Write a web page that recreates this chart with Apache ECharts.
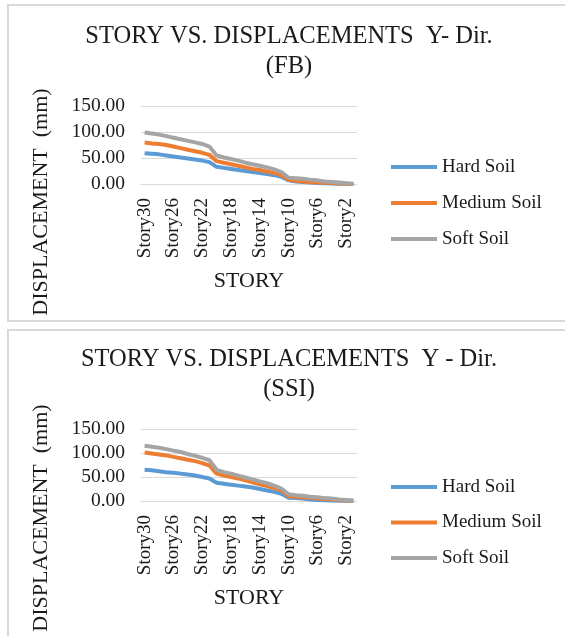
<!DOCTYPE html>
<html>
<head>
<meta charset="utf-8">
<script src="https://cdn.jsdelivr.net/npm/echarts@6/dist/echarts.min.js"></script>
<style>
html,body{margin:0;padding:0;background:#fff;}
#chart{width:565px;height:636px;}
</style>
</head>
<body>
<div id="chart"></div>
<script>
// ---- data ----
var categories = ['Story30','Story29','Story28','Story27','Story26','Story25','Story24','Story23','Story22','Story21',
  'Story20','Story19','Story18','Story17','Story16','Story15','Story14','Story13','Story12','Story11',
  'Story10','Story9','Story8','Story7','Story6','Story5','Story4','Story3','Story2','Story1'];
var seriesNames = ['Hard Soil','Medium Soil','Soft Soil'];
var yTicks = [0, 50, 100, 150];

var fbHard   = [59, 58, 57, 55, 53, 51, 49, 47, 45, 42, 33, 31, 29, 27, 25, 23, 21, 19, 17, 14, 7, 5, 4, 3, 2, 1.5, 1, 0.5, 0.3, 0.1];
var fbMedium = [80, 78, 77, 75, 72, 69, 66, 63, 60, 56, 44, 41, 38, 35, 32, 29, 27, 24, 21, 17, 8, 6, 5, 4, 3, 2.5, 2, 1.2, 0.6, 0.2];
var fbSoft   = [99, 97, 95, 92, 89, 86, 83, 80, 77, 72, 55, 51, 48, 45, 41, 38, 35, 32, 28, 23, 12, 11, 10, 8, 7, 5, 4, 3, 1.5, 0.5];

var ssiHard   = [65, 64, 62, 60, 59, 57, 55, 53, 50, 47, 38, 36, 34, 32, 30, 28, 25, 22, 19, 15, 7, 6, 5, 3, 2, 1.5, 1, 0.5, 0.3, 0.1];
var ssiMedium = [101, 99, 97, 95, 92, 89, 86, 83, 79, 74, 57, 53, 50, 47, 43, 39, 35, 31, 27, 22, 10, 9, 8, 7, 5, 4, 3, 2, 1, 0.3];
var ssiSoft   = [115, 113, 111, 108, 105, 102, 98, 94, 90, 85, 65, 60, 57, 53, 49, 45, 41, 37, 32, 26, 14, 12, 11, 9, 8, 6, 5, 3, 2, 0.5];

var titleFB  = 'STORY VS. DISPLACEMENTS  Y- Dir.\n(FB)';
var titleSSI = 'STORY VS. DISPLACEMENTS  Y - Dir.\n(SSI)';
var xTitle = 'STORY';
var yTitle = 'DISPLACEMENT  (mm)';

// ---- styling ----
var FONT = '"Liberation Serif", "Times New Roman", serif';
var TXT = '#1a1a1a';
var GRIDC = '#d9d9d9';
var colors = ['#5B9BD5', '#ED7D31', '#A5A5A5'];

function xAx(gi) {
  return {
    type: 'category', gridIndex: gi, data: categories, boundaryGap: true,
    axisTick: {show: false},
    axisLine: {show: true, lineStyle: {color: GRIDC, width: 1}},
    axisLabel: {rotate: 90, interval: 3, fontSize: 19, fontFamily: FONT, color: TXT, margin: 14},
    name: xTitle, nameLocation: 'middle', nameGap: 86,
    nameTextStyle: {fontSize: 22, fontFamily: FONT, color: TXT}
  };
}
function yAx(gi) {
  return {
    type: 'value', gridIndex: gi, min: 0, max: 150, interval: 50,
    axisLine: {show: false}, axisTick: {show: false},
    splitLine: {lineStyle: {color: GRIDC, width: 1}},
    axisLabel: {fontSize: 19.5, fontFamily: FONT, color: TXT, margin: 16,
      formatter: function (v) { return v.toFixed(2); }}
  };
}
function mk(name, data, gi, ci) {
  return {
    name: name, type: 'line', data: data, xAxisIndex: gi, yAxisIndex: gi,
    showSymbol: false, symbol: 'none', smooth: false,
    lineStyle: {width: 4, color: colors[ci]}, itemStyle: {color: colors[ci]},
    emphasis: {disabled: true}
  };
}
function lg(top, gap) {
  return {
    data: seriesNames, orient: 'vertical', left: 391, top: top, padding: 0,
    icon: 'rect', itemWidth: 46, itemHeight: 4, itemGap: gap,
    textStyle: {fontSize: 19, fontFamily: FONT, color: TXT, lineHeight: 22}
  };
}

var chart = echarts.init(document.getElementById('chart'), null, {renderer: 'canvas'});
chart.setOption({
  animation: false,
  backgroundColor: '#fff',
  title: [
    {text: titleFB, left: 289, top: 22, padding: 0, textAlign: 'center',
     textStyle: {fontSize: 24.5, fontWeight: 'normal', fontFamily: FONT, color: TXT, lineHeight: 30}},
    {text: titleSSI, left: 289, top: 345, padding: 0, textAlign: 'center',
     textStyle: {fontSize: 24.5, fontWeight: 'normal', fontFamily: FONT, color: TXT, lineHeight: 30}}
  ],
  legend: [lg(156, 14), lg(476, 13.5)],
  grid: [
    {left: 141, right: 208, top: 106, height: 78},
    {left: 141, right: 208, top: 429, height: 72}
  ],
  xAxis: [xAx(0), xAx(1)],
  yAxis: [yAx(0), yAx(1)],
  series: [
    mk(seriesNames[0], fbHard, 0, 0),
    mk(seriesNames[1], fbMedium, 0, 1),
    mk(seriesNames[2], fbSoft, 0, 2),
    mk(seriesNames[0], ssiHard, 1, 0),
    mk(seriesNames[1], ssiMedium, 1, 1),
    mk(seriesNames[2], ssiSoft, 1, 2)
  ],
  graphic: [
    {type: 'rect', shape: {x: 8, y: 5, width: 620, height: 316}, silent: true,
     style: {fill: 'none', stroke: GRIDC, lineWidth: 2}},
    {type: 'rect', shape: {x: 8, y: 330, width: 620, height: 400}, silent: true,
     style: {fill: 'none', stroke: GRIDC, lineWidth: 2}},
    {type: 'text', x: 41, y: 202, rotation: Math.PI / 2, silent: true,
     style: {text: yTitle, font: '22px ' + FONT, fill: TXT, align: 'center', verticalAlign: 'middle'}},
    {type: 'text', x: 41, y: 518, rotation: Math.PI / 2, silent: true,
     style: {text: yTitle, font: '22px ' + FONT, fill: TXT, align: 'center', verticalAlign: 'middle'}}
  ]
});
</script>
</body>
</html>
